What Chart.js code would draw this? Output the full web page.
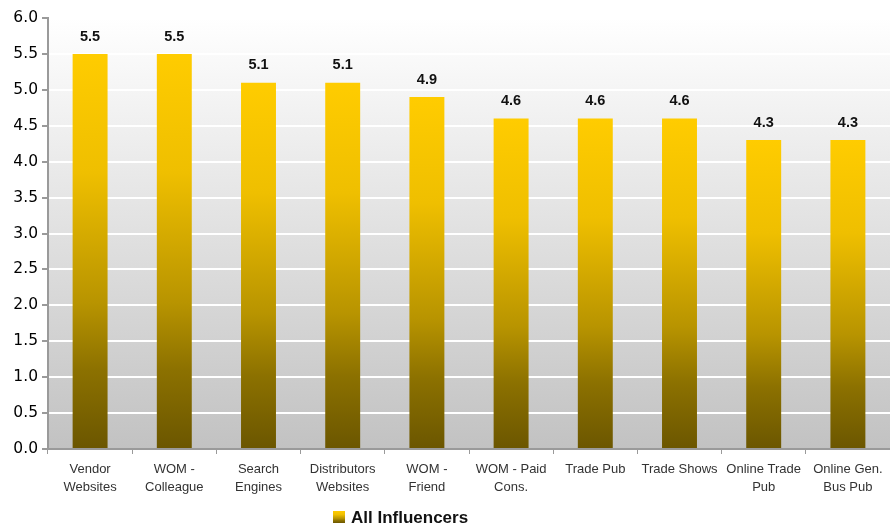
<!DOCTYPE html>
<html>
<head>
<meta charset="utf-8">
<script src="https://cdn.jsdelivr.net/npm/chart.js@4.4.1/dist/chart.umd.min.js"></script>
<style>
  html, body { margin: 0; padding: 0; background: #fff; }
  #wrap { width: 890px; height: 526px; }
</style>
</head>
<body>
<div id="wrap"><canvas id="chart"></canvas></div>
<script>
const categories = [
  ['Vendor', 'Websites'],
  ['WOM -', 'Colleague'],
  ['Search', 'Engines'],
  ['Distributors', 'Websites'],
  ['WOM -', 'Friend'],
  ['WOM - Paid', 'Cons.'],
  'Trade Pub',
  'Trade Shows',
  ['Online Trade', 'Pub'],
  ['Online Gen.', 'Bus Pub'],
];
const influencerScores = [5.5, 5.5, 5.1, 5.1, 4.9, 4.6, 4.6, 4.6, 4.3, 4.3];
const seriesName = 'All Influencers';

const BAR_STOPS = [[0, '#ffcc00'], [0.3, '#efbf00'], [0.63, '#b89400'], [0.8, '#8c7100'], [1, '#6b5600']];

function fillStops(g) {
  BAR_STOPS.forEach(([o, c]) => g.addColorStop(o, c));
  return g;
}

// gradient from the top of each bar down to the axis
function barGradient(ctx) {
  const chart = ctx.chart;
  if (!chart.chartArea || ctx.type !== 'data') return '#ffcc00';
  const y = chart.scales.y;
  const top = y.getPixelForValue(ctx.raw);
  const base = y.getPixelForValue(0);
  return fillStops(chart.ctx.createLinearGradient(0, top, 0, base));
}

const plotBackground = {
  id: 'plotBackground',
  beforeDraw(chart) {
    const { ctx, chartArea: a } = chart;
    const g = ctx.createLinearGradient(0, a.top, 0, a.bottom);
    g.addColorStop(0, '#ffffff');
    g.addColorStop(1, '#c2c2c2');
    ctx.save();
    ctx.fillStyle = g;
    ctx.fillRect(a.left, a.top, a.right - a.left, a.bottom - a.top);
    ctx.restore();
  },
};

const valueLabels = {
  id: 'valueLabels',
  afterDatasetsDraw(chart) {
    const { ctx } = chart;
    const meta = chart.getDatasetMeta(0);
    ctx.save();
    ctx.font = 'bold 14.5px "Liberation Sans", Arial, sans-serif';
    ctx.fillStyle = '#111';
    ctx.textAlign = 'center';
    ctx.textBaseline = 'bottom';
    meta.data.forEach((bar, i) => {
      ctx.fillText(influencerScores[i].toFixed(1), bar.x, bar.y - 10);
    });
    ctx.restore();
  },
};

const bottomLegend = {
  id: 'bottomLegend',
  afterDraw(chart) {
    const { ctx } = chart;
    const label = chart.data.datasets[0].label;
    const x = 333, y = 511, size = 12;
    ctx.save();
    ctx.fillStyle = fillStops(ctx.createLinearGradient(0, y, 0, y + size));
    ctx.fillRect(x, y, size, size);
    ctx.font = 'bold 17px "Liberation Sans", Arial, sans-serif';
    ctx.fillStyle = '#111';
    ctx.textAlign = 'left';
    ctx.textBaseline = 'middle';
    ctx.fillText(label, x + size + 6, y + size / 2 + 1);
    ctx.restore();
  },
};

new Chart(document.getElementById('chart'), {
  type: 'bar',
  data: {
    labels: categories,
    datasets: [{
      label: seriesName,
      data: influencerScores,
      backgroundColor: barGradient,
      borderWidth: 0,
      categoryPercentage: 1,
      barPercentage: 0.415,
    }],
  },
  options: {
    responsive: true,
    maintainAspectRatio: false,
    animation: false,
    layout: { padding: { top: 18, right: 0, left: 0, bottom: 27 } },
    plugins: {
      legend: { display: false },
      tooltip: { enabled: false },
    },
    scales: {
      x: {
        grid: { drawOnChartArea: false, drawTicks: true, tickLength: 5, tickColor: '#9a9a9a', offset: true },
        border: { color: '#9a9a9a', width: 2 },
        ticks: {
          color: '#333',
          font: { family: '"Liberation Sans", Arial, sans-serif', size: 13, lineHeight: 1.35 },
          padding: 7,
          maxRotation: 0,
          autoSkip: false,
        },
        afterFit: (s) => { s.height = 50; },
      },
      y: {
        min: 0,
        max: 6,
        grid: { color: '#ffffff', lineWidth: 2, tickColor: '#9a9a9a', tickLength: 6 },
        border: { color: '#9a9a9a', width: 2 },
        ticks: {
          stepSize: 0.5,
          color: '#000',
          font: { family: '"DejaVu Sans", sans-serif', size: 15.5 },
          padding: 4,
          callback: (v) => Number(v).toFixed(1),
        },
        afterFit: (s) => { s.width = 48; },
      },
    },
  },
  plugins: [plotBackground, valueLabels, bottomLegend],
});
</script>
</body>
</html>
